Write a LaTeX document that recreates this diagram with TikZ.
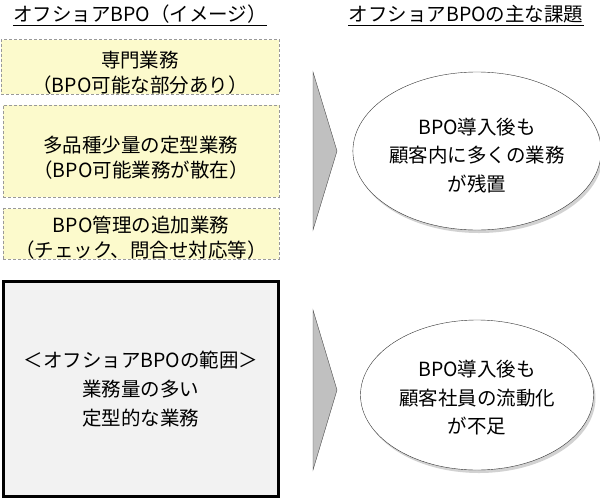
\documentclass[tikz,border=0pt]{standalone}
\usepackage{fontspec}
\setmainfont{Noto Sans CJK JP}
\usetikzlibrary{shapes.geometric,shadows}
\definecolor{boxyellow}{HTML}{FCFACC}
\definecolor{boxgray}{HTML}{F2F2F2}
\definecolor{chevgray}{HTML}{C0C0C0}
\newcommand{\topgap}[1]{\rule{0pt}{#1}}
\tikzset{
  work/.style={draw=gray!80,dashed,dash pattern=on 3pt off 2pt,fill=boxyellow,align=center,inner sep=0pt,
    font=\fontsize{19.5}{25}\selectfont},
  scope box/.style={draw=black,line width=3pt,fill=boxgray,align=center,inner sep=0pt,
    font=\fontsize{19.5}{29}\selectfont},
  issue/.style={ellipse,draw=black!80,fill=white,align=center,inner sep=0pt,
    font=\fontsize{19.5}{28.5}\selectfont,
    drop shadow={shadow xshift=2pt,shadow yshift=-3pt,fill=gray!70}},
  chev/.style={draw=black!70,fill=chevgray,line join=miter},
  title/.style={inner xsep=0pt,inner ysep=2pt,font=\fontsize{19.5}{25}\selectfont}
}
\begin{document}
\begin{tikzpicture}[x=1pt,y=-1pt]
\useasboundingbox (0,0) rectangle (600,499);
% titles
\node[title] (ttlL) at (140,14) {オフショアBPO（イメージ）};
\node[title] (ttlR) at (466,14) {オフショアBPOの主な課題};
\draw (ttlL.south west) -- (ttlL.south east);
\draw (ttlR.south west) -- (ttlR.south east);
% left side
\node[work,minimum width=278,minimum height=50] (w1) at (140,67) {\topgap{28pt}専門業務\\（BPO可能な部分あり）};
\node[work,minimum width=276,minimum height=92] (w2) at (141,151) {\topgap{30pt}多品種少量の定型業務\\（BPO可能業務が散在）};
\node[work,minimum width=276,minimum height=50] (w3) at (141,234) {\topgap{24pt}BPO管理の追加業務\\（チェック、問合せ対応等）};
\node[scope box,minimum width=275,minimum height=215] (rng) at (141,389)
  {＜オフショアBPOの範囲＞\\業務量の多い\\定型的な業務};
% chevrons
\draw[chev] (313,72) -- (337,151) -- (313,230) -- cycle;
\draw[chev] (313,310) -- (337,390) -- (313,470) -- cycle;
% issues
\node[issue,minimum width=233,minimum height=158] (i1) at (477,151) {\topgap{25pt}BPO導入後も\\顧客内に多くの業務\\が残置};
\node[issue,minimum width=233,minimum height=150] (i2) at (477,395) {\topgap{22pt}BPO導入後も\\顧客社員の流動化\\が不足};
\end{tikzpicture}
\end{document}
